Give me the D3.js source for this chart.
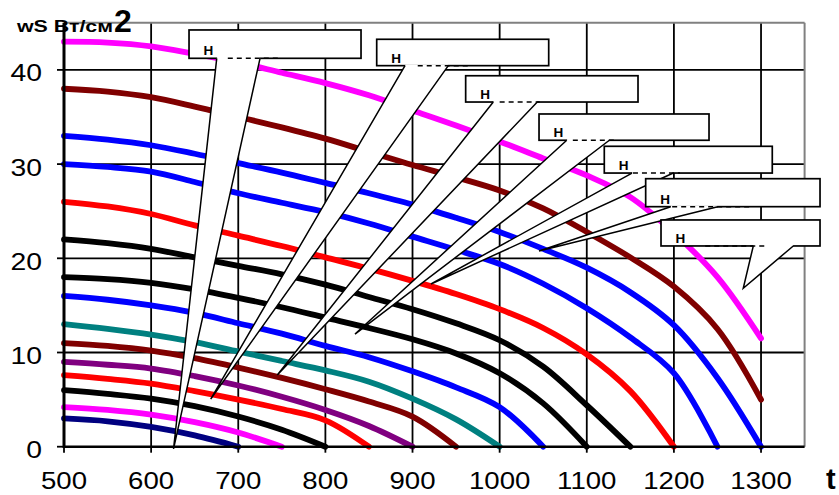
<!DOCTYPE html>
<html><head><meta charset="utf-8">
<script src="https://cdn.jsdelivr.net/npm/d3@7"></script>
<style>body{margin:0;background:#fff}svg{display:block}</style>
</head><body>
<script>
// ---- data ----
const tValues = [500,550,600,650,700,750,800,850,900,950,1000,1050,1100,1150,1200,1250,1300];
const xTicks = [500,600,700,800,900,1000,1100,1200,1300];
const yTicks = [0,10,20,30,40];
const sMagenta1 = [43,42.9,42.5,41.7,40.8,39.7,38.6,37.3,35.7,34.1,32.4,30.6,28.8,26.5,22.7,18.0,11.5];
const sMaroon1  = [38,37.7,37.1,36.1,35.0,33.9,32.7,31.3,29.9,28.6,27.2,25.3,22.8,20.1,17.0,12.5,5.0];
const sBlue1    = [33,32.6,32.0,31.1,30.1,29.1,28.0,26.9,25.7,24.3,22.8,21.0,19.0,16.4,12.9,7.3,0];
const sBlue2    = [30,29.7,29.2,28.1,26.9,25.9,24.9,23.7,22.3,20.9,19.4,17.3,14.7,11.6,7.8,0];
const sRed1     = [26,25.5,24.7,23.5,22.4,21.3,20.1,18.9,17.6,16.2,14.6,12.6,9.8,5.9,0];
const sBlack1   = [22,21.6,21.0,20.1,19.2,18.3,17.2,15.9,14.6,13.1,11.3,8.5,4.4,0];
const sBlack2   = [18,17.8,17.4,16.7,15.8,14.8,13.7,12.6,11.4,9.9,7.8,4.6,0];
const sBlue3    = [16,15.6,15.0,14.2,13.1,12.0,10.7,9.5,8.0,6.3,4.2,0];
const sTeal     = [13,12.5,11.9,11.1,10.1,9.1,8.1,6.9,5.1,2.9,0];
const sMaroon2  = [11,10.7,10.2,9.4,8.4,7.3,6.1,4.8,3.2,0];
const sPurple   = [9,8.7,8.3,7.5,6.5,5.3,3.9,2.2,0];
const sRed2     = [7.6,7.2,6.7,5.9,5.0,4.0,2.8,0];
const sBlack3   = [6,5.6,5.1,4.3,3.2,1.8,0];
const sMagenta2 = [4.2,3.9,3.4,2.6,1.5,0];
const sNavy     = [3.0,2.7,2.1,1.2,0];
const calloutLabel = "Н";

// ---- layout / styles ----
const W = 839, H = 495;
const series = [
  {v:sMagenta1, c:"#FF00FF"},{v:sMaroon1, c:"#800000"},{v:sBlue1, c:"#0000FF"},
  {v:sBlue2, c:"#0000FF"},{v:sRed1, c:"#FF0000"},{v:sBlack1, c:"#000000"},
  {v:sBlack2, c:"#000000"},{v:sBlue3, c:"#0000FF"},{v:sTeal, c:"#008080"},
  {v:sMaroon2, c:"#800000"},{v:sPurple, c:"#800080"},{v:sRed2, c:"#FF0000"},
  {v:sBlack3, c:"#000000"},{v:sMagenta2, c:"#FF00FF"},{v:sNavy, c:"#000080"}
];
// callouts in data units (t, w)
const callouts = [
 {x0:643.5,x1:840.9,yt:44.24,yb:41.23,b0:675.3,b1:725.0,tt:625.7,tw:-0.24,d0:688,d1:748},
 {x0:858.9,x1:1056.3,yt:43.25,yb:40.45,b0:891.4,b1:941.1,tt:668.4,tw:5.06,d0:906,d1:966},
 {x0:961.0,x1:1158.8,yt:39.38,yb:36.59,b0:992.7,b1:1043.2,tt:744.8,tw:7.61,d0:1000,d1:1046},
 {x0:1045.2,x1:1240.3,yt:35.32,yb:32.53,b0:1077.0,b1:1125.9,tt:834.0,tw:11.96,d0:1084,d1:1132},
 {x0:1120.1,x1:1312.9,yt:31.89,yb:29.05,b0:1151.9,b1:1199.3,tt:921.2,tw:17.27,d0:1153,d1:1207},
 {x0:1167.6,x1:1367.7,yt:28.45,yb:25.48,b0:1196.3,b1:1250.3,tt:1045.2,tw:20.77,d0:1198,d1:1290},
 {x0:1185.2,x1:1367.7,yt:24.07,yb:21.31,b0:1291.1,b1:1337.0,tt:1279.6,tw:16.82,d0:1236,d1:1308}
];

const svg = d3.select("body").append("svg").attr("width",W).attr("height",H);
const x = d3.scaleLinear().domain([500,1350]).range([64,804.6]);
const y = d3.scaleLinear().domain([0,45]).range([446.7,22.8]);
const font = "'Liberation Sans', Arial, sans-serif";

// grid
const g = svg.append("g");
g.selectAll(".hg").data(yTicks.filter(d=>d>0)).join("line")
  .attr("x1",x(500)).attr("x2",x(1350)).attr("y1",d=>y(d)).attr("y2",d=>y(d))
  .attr("stroke","#000").attr("stroke-width",1.8);
g.selectAll(".vg").data(xTicks.filter(d=>d>500)).join("line")
  .attr("x1",d=>x(d)).attr("x2",d=>x(d)).attr("y1",y(0)).attr("y2",y(45))
  .attr("stroke","#000").attr("stroke-width",1.8);
// top & right border
g.append("line").attr("x1",x(500)).attr("x2",x(1350)).attr("y1",y(45)).attr("y2",y(45))
  .attr("stroke","#808080").attr("stroke-width",2);
g.append("line").attr("x1",x(1350)).attr("x2",x(1350)).attr("y1",y(45)).attr("y2",y(0))
  .attr("stroke","#808080").attr("stroke-width",2);

// curves
const line = d3.line().x((d,i)=>x(tValues[i])).y(d=>y(d)).curve(d3.curveCatmullRom.alpha(0.5));
svg.append("g").selectAll("path").data(series).join("path")
  .attr("d",d=>line(d.v)).attr("fill","none").attr("stroke",d=>d.c)
  .attr("stroke-width",5.8).attr("stroke-linecap","round").attr("stroke-linejoin","round");

// axes
const ax = svg.append("g");
ax.append("line").attr("x1",x(500)).attr("x2",x(1350)).attr("y1",y(0)).attr("y2",y(0))
  .attr("stroke","#000").attr("stroke-width",2.6);
ax.append("line").attr("x1",x(500)).attr("x2",x(500)).attr("y1",y(0)+1.3).attr("y2",y(45))
  .attr("stroke","#000").attr("stroke-width",3);
ax.selectAll(".yt").data(yTicks).join("line")
  .attr("x1",x(500)-7).attr("x2",x(500)).attr("y1",d=>y(d)).attr("y2",d=>y(d))
  .attr("stroke","#000").attr("stroke-width",1.8);
ax.selectAll(".xt").data(xTicks).join("line")
  .attr("x1",d=>x(d)).attr("x2",d=>x(d)).attr("y1",y(0)).attr("y2",y(0)+6)
  .attr("stroke","#000").attr("stroke-width",1.8);
ax.selectAll(".yl").data(yTicks).join("text")
  .attr("transform",d=>`translate(42,${y(d)+11.5}) scale(1.18,1)`)
  .attr("text-anchor","end").attr("font-family",font).attr("font-size",24).text(d=>d);
ax.selectAll(".xl").data(xTicks).join("text")
  .attr("transform",d=>`translate(${x(d)},488.5) scale(1.2,1)`)
  .attr("text-anchor","middle").attr("font-family",font).attr("font-size",23).text(d=>d);

// titles
svg.append("text").attr("x",17).attr("y",32).attr("font-family",font).attr("font-weight","bold")
  .attr("font-size",16).attr("textLength",96).attr("lengthAdjust","spacingAndGlyphs").text("wS Вт/см");
svg.append("text").attr("x",114).attr("y",32).attr("font-family",font).attr("font-weight","bold")
  .attr("font-size",32).text("2");
svg.append("text").attr("x",826).attr("y",489).attr("font-family",font).attr("font-weight","bold")
  .attr("font-size",29).text("t");

// callouts
callouts.forEach(c=>{
  const cg = svg.append("g");
  const bx0=x(c.x0), bx1=x(c.x1), by0=y(c.yt), by1=y(c.yb);
  cg.append("rect").attr("x",bx0).attr("y",by0).attr("width",bx1-bx0).attr("height",by1-by0)
    .attr("fill","#fff").attr("stroke","#000").attr("stroke-width",1.7);
  const p0=[x(c.b0),by1], p1=[x(c.b1),by1], tp=[x(c.tt),y(c.tw)];
  cg.append("path").attr("d",`M${p0[0]+0.6},${by1-1.2}L${p1[0]-0.6},${by1-1.2}L${p1[0]},${by1}L${tp[0]},${tp[1]}L${p0[0]},${by1}Z`)
    .attr("fill","#fff").attr("stroke","none");
  cg.append("path").attr("d",`M${p0[0]},${p0[1]}L${tp[0]},${tp[1]}L${p1[0]},${p1[1]}`)
    .attr("fill","none").attr("stroke","#000").attr("stroke-width",1.5).attr("stroke-linejoin","miter");
  cg.append("line").attr("x1",x(c.d0)).attr("x2",x(c.d1)).attr("y1",by1).attr("y2",by1)
    .attr("stroke","#000").attr("stroke-width",1.5).attr("stroke-dasharray","5,4");
  cg.append("text").attr("x",bx0+14.5).attr("y",by1-3).attr("font-family",font)
    .attr("font-weight","bold").attr("font-size",13.5).text(calloutLabel);
});
</script>
</body></html>
